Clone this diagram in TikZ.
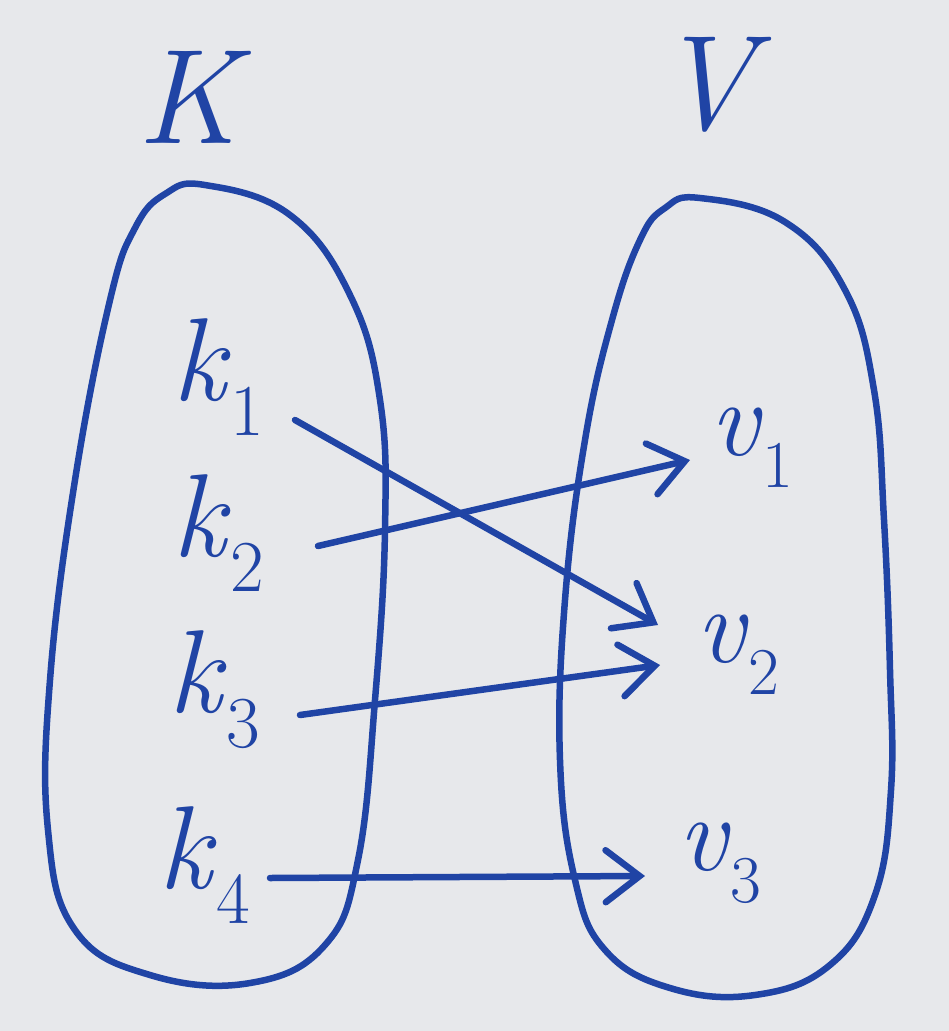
\documentclass[tikz,border=0pt]{standalone}
\usepackage{fontspec}
\usepackage{tikz}
\usetikzlibrary{arrows.meta, calc}
\definecolor{ink}{RGB}{32,68,165}
\definecolor{paper}{RGB}{231,232,235}
\newcommand{\idx}[2]{\textit{#1}\raisebox{-0.3em}{\scalebox{0.62}{#2}}}

\begin{document}
\begin{tikzpicture}
                [x=1pt, y=-1pt,
                bsty/.style={draw=ink, line width=6.5pt, line join=round},
                ksty/.style={ink, anchor=base west, inner sep=0pt, font=\fontsize{118}{118}\selectfont},
                vsty/.style={ink, anchor=base west, inner sep=0pt, font=\fontsize{108}{108}\selectfont},
                tsty/.style={ink, inner sep=0pt, font=\fontsize{135}{135}\selectfont\itshape},
                asty/.style={-{Straight Barb[length=34pt, width=52pt, line cap=round]}, draw=ink, line width=6.5pt, line cap=round}]
                % paper
                \fill[paper] (0,0) rectangle (949,1031);
                % sets
                \draw[bsty] plot[smooth cycle, tension=0.7] coordinates {(205,185) (290,215) (350,295) (380,400) (385,530) (375,700) (358,860) (325,945) (250,983) (150,975) (75,930) (48,830) (50,680) (75,480) (110,300) (135,228) (165,194)};
                \draw[bsty] plot[smooth cycle, tension=0.7] coordinates {(700,198) (785,222) (845,290) (874,390) (884,520) (890,670) (891,790) (875,895) (830,965) (755,995) (670,988) (605,950) (575,880) (560,760) (565,600) (585,440) (612,320) (640,240) (665,208)};
                % titles
                \node[tsty] (K) at (188,97) {K};
                \node[tsty] (V) at (706,85) {V};
                % nodes
                \node[ksty] (k1) at (172,400) {\idx{k}{1}};
                \node[ksty] (k2) at (172,556) {\idx{k}{2}};
                \node[ksty] (k3) at (168,712) {\idx{k}{3}};
                \node[ksty] (k4) at (158,888) {\idx{k}{4}};
                \node[vsty] (v1) at (710,455) {\idx{v}{1}};
                \node[vsty] (v2) at (696,662) {\idx{v}{2}};
                \node[vsty] (v3) at (678,870) {\idx{v}{3}};
                % vertices
                \draw[asty] ([shift={(123,20)}]k1.base west) -- ([shift={(-38,-37)}]v2.base west);
                \draw[asty] ([shift={(146,-10)}]k2.base west) -- ([shift={(-20,5)}]v1.base west);
                \draw[asty] ([shift={(132,3)}]k3.base west) -- ([shift={(-36,3)}]v2.base west);
                \draw[asty] ([shift={(112,-10)}]k4.base west) -- ([shift={(-33,6)}]v3.base west);
            \end{tikzpicture}
\end{document}
